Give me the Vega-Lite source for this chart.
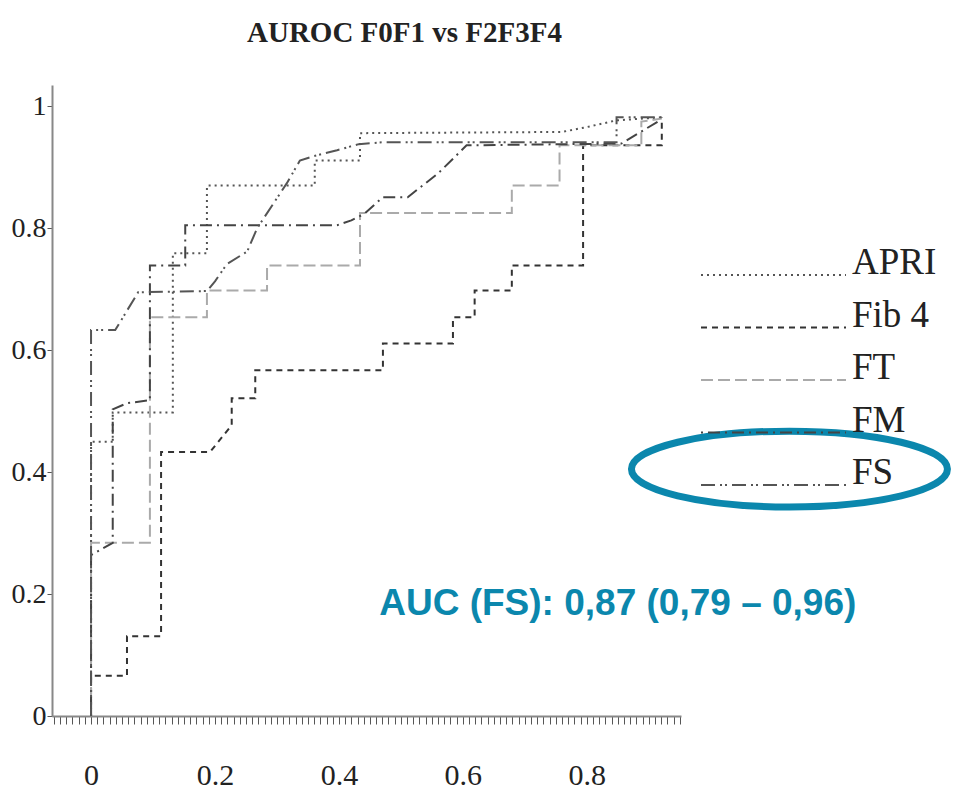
{
  "$schema": "https://vega.github.io/schema/vega-lite/v6.json",
  "width": 629,
  "height": 631,
  "autosize": "none",
  "padding": {"left": 52, "top": 85, "right": 275, "bottom": 73},
  "background": "white",
  "title": {"text": "AUROC F0F1 vs F2F3F4", "font": "Liberation Serif", "fontSize": 29, "fontWeight": "bold", "color": "#222", "anchor": "middle", "dx": 38, "offset": 14, "baseline": "alphabetic"},
  "datasets": {
    "roc": [
      {"test": "APRI", "i": 0, "fpr": 0, "tpr": 0},
      {"test": "APRI", "i": 1, "fpr": 0, "tpr": 0.45},
      {"test": "APRI", "i": 2, "fpr": 0.035, "tpr": 0.45},
      {"test": "APRI", "i": 3, "fpr": 0.035, "tpr": 0.498},
      {"test": "APRI", "i": 4, "fpr": 0.132, "tpr": 0.498},
      {"test": "APRI", "i": 5, "fpr": 0.132, "tpr": 0.759},
      {"test": "APRI", "i": 6, "fpr": 0.187, "tpr": 0.759},
      {"test": "APRI", "i": 7, "fpr": 0.187, "tpr": 0.87},
      {"test": "APRI", "i": 8, "fpr": 0.361, "tpr": 0.87},
      {"test": "APRI", "i": 9, "fpr": 0.361, "tpr": 0.911},
      {"test": "APRI", "i": 10, "fpr": 0.434, "tpr": 0.911},
      {"test": "APRI", "i": 11, "fpr": 0.434, "tpr": 0.956},
      {"test": "APRI", "i": 12, "fpr": 0.76, "tpr": 0.958},
      {"test": "APRI", "i": 13, "fpr": 0.8, "tpr": 0.966},
      {"test": "APRI", "i": 14, "fpr": 0.848, "tpr": 0.977},
      {"test": "APRI", "i": 15, "fpr": 0.921, "tpr": 0.982},

      {"test": "Fib 4", "i": 0, "fpr": 0, "tpr": 0},
      {"test": "Fib 4", "i": 1, "fpr": 0, "tpr": 0.066},
      {"test": "Fib 4", "i": 2, "fpr": 0.058, "tpr": 0.066},
      {"test": "Fib 4", "i": 3, "fpr": 0.058, "tpr": 0.131},
      {"test": "Fib 4", "i": 4, "fpr": 0.113, "tpr": 0.131},
      {"test": "Fib 4", "i": 5, "fpr": 0.113, "tpr": 0.433},
      {"test": "Fib 4", "i": 6, "fpr": 0.192, "tpr": 0.433},
      {"test": "Fib 4", "i": 7, "fpr": 0.227, "tpr": 0.477},
      {"test": "Fib 4", "i": 8, "fpr": 0.227, "tpr": 0.521},
      {"test": "Fib 4", "i": 9, "fpr": 0.265, "tpr": 0.521},
      {"test": "Fib 4", "i": 10, "fpr": 0.265, "tpr": 0.567},
      {"test": "Fib 4", "i": 11, "fpr": 0.471, "tpr": 0.567},
      {"test": "Fib 4", "i": 12, "fpr": 0.471, "tpr": 0.611},
      {"test": "Fib 4", "i": 13, "fpr": 0.584, "tpr": 0.611},
      {"test": "Fib 4", "i": 14, "fpr": 0.584, "tpr": 0.654},
      {"test": "Fib 4", "i": 15, "fpr": 0.619, "tpr": 0.654},
      {"test": "Fib 4", "i": 16, "fpr": 0.619, "tpr": 0.698},
      {"test": "Fib 4", "i": 17, "fpr": 0.679, "tpr": 0.698},
      {"test": "Fib 4", "i": 18, "fpr": 0.679, "tpr": 0.739},
      {"test": "Fib 4", "i": 19, "fpr": 0.794, "tpr": 0.739},
      {"test": "Fib 4", "i": 20, "fpr": 0.794, "tpr": 0.936},
      {"test": "Fib 4", "i": 21, "fpr": 0.921, "tpr": 0.936},
      {"test": "Fib 4", "i": 22, "fpr": 0.921, "tpr": 0.982},

      {"test": "FT", "i": 0, "fpr": 0, "tpr": 0},
      {"test": "FT", "i": 1, "fpr": 0, "tpr": 0.284},
      {"test": "FT", "i": 2, "fpr": 0.095, "tpr": 0.284},
      {"test": "FT", "i": 3, "fpr": 0.095, "tpr": 0.654},
      {"test": "FT", "i": 4, "fpr": 0.187, "tpr": 0.654},
      {"test": "FT", "i": 5, "fpr": 0.187, "tpr": 0.698},
      {"test": "FT", "i": 6, "fpr": 0.284, "tpr": 0.698},
      {"test": "FT", "i": 7, "fpr": 0.284, "tpr": 0.739},
      {"test": "FT", "i": 8, "fpr": 0.434, "tpr": 0.739},
      {"test": "FT", "i": 9, "fpr": 0.434, "tpr": 0.825},
      {"test": "FT", "i": 10, "fpr": 0.679, "tpr": 0.825},
      {"test": "FT", "i": 11, "fpr": 0.679, "tpr": 0.87},
      {"test": "FT", "i": 12, "fpr": 0.756, "tpr": 0.87},
      {"test": "FT", "i": 13, "fpr": 0.756, "tpr": 0.936},
      {"test": "FT", "i": 14, "fpr": 0.888, "tpr": 0.936},
      {"test": "FT", "i": 15, "fpr": 0.888, "tpr": 0.975},
      {"test": "FT", "i": 16, "fpr": 0.921, "tpr": 0.98},

      {"test": "FM", "i": 0, "fpr": 0, "tpr": 0},
      {"test": "FM", "i": 1, "fpr": 0, "tpr": 0.264},
      {"test": "FM", "i": 2, "fpr": 0.035, "tpr": 0.284},
      {"test": "FM", "i": 3, "fpr": 0.035, "tpr": 0.503},
      {"test": "FM", "i": 4, "fpr": 0.058, "tpr": 0.513},
      {"test": "FM", "i": 5, "fpr": 0.095, "tpr": 0.518},
      {"test": "FM", "i": 6, "fpr": 0.095, "tpr": 0.739},
      {"test": "FM", "i": 7, "fpr": 0.152, "tpr": 0.739},
      {"test": "FM", "i": 8, "fpr": 0.152, "tpr": 0.805},
      {"test": "FM", "i": 9, "fpr": 0.397, "tpr": 0.805},
      {"test": "FM", "i": 10, "fpr": 0.42, "tpr": 0.813},
      {"test": "FM", "i": 11, "fpr": 0.44, "tpr": 0.823},
      {"test": "FM", "i": 12, "fpr": 0.471, "tpr": 0.851},
      {"test": "FM", "i": 13, "fpr": 0.511, "tpr": 0.851},
      {"test": "FM", "i": 14, "fpr": 0.56, "tpr": 0.89},
      {"test": "FM", "i": 15, "fpr": 0.606, "tpr": 0.936},
      {"test": "FM", "i": 16, "fpr": 0.856, "tpr": 0.939},
      {"test": "FM", "i": 17, "fpr": 0.918, "tpr": 0.977},

      {"test": "FS", "i": 0, "fpr": 0, "tpr": 0},
      {"test": "FS", "i": 1, "fpr": 0, "tpr": 0.633},
      {"test": "FS", "i": 2, "fpr": 0.039, "tpr": 0.633},
      {"test": "FS", "i": 3, "fpr": 0.076, "tpr": 0.695},
      {"test": "FS", "i": 4, "fpr": 0.187, "tpr": 0.697},
      {"test": "FS", "i": 5, "fpr": 0.2, "tpr": 0.713},
      {"test": "FS", "i": 6, "fpr": 0.219, "tpr": 0.741},
      {"test": "FS", "i": 7, "fpr": 0.252, "tpr": 0.762},
      {"test": "FS", "i": 8, "fpr": 0.268, "tpr": 0.8},
      {"test": "FS", "i": 9, "fpr": 0.316, "tpr": 0.874},
      {"test": "FS", "i": 10, "fpr": 0.337, "tpr": 0.911},
      {"test": "FS", "i": 11, "fpr": 0.358, "tpr": 0.918},
      {"test": "FS", "i": 12, "fpr": 0.397, "tpr": 0.928},
      {"test": "FS", "i": 13, "fpr": 0.432, "tpr": 0.938},
      {"test": "FS", "i": 14, "fpr": 0.47, "tpr": 0.941},
      {"test": "FS", "i": 15, "fpr": 0.848, "tpr": 0.941},
      {"test": "FS", "i": 16, "fpr": 0.848, "tpr": 0.982},
      {"test": "FS", "i": 17, "fpr": 0.921, "tpr": 0.982}
    ],
    "notes": [
      {"kind": "label", "x": 0.85, "y": 0.166, "text": "AUC (FS): 0,87 (0,79 – 0,96)"},
      {"kind": "ellipse", "x": 1.127, "y": 0.405, "text": ""}
    ]
  },
  "layer": [
    {
      "data": {"name": "roc"},
      "mark": {"type": "line", "strokeWidth": 2, "clip": false},
      "encoding": {
        "x": {
          "field": "fpr", "type": "quantitative",
          "scale": {"domain": [-0.063, 0.952], "nice": false, "zero": false},
          "axis": {
            "title": null, "grid": false, "tickCount": 500,
            "values": [-0.06,-0.05,-0.04,-0.03,-0.02,-0.01,0,0.01,0.02,0.03,0.04,0.05,0.06,0.07,0.08,0.09,0.1,0.11,0.12,0.13,0.14,0.15,0.16,0.17,0.18,0.19,0.2,0.21,0.22,0.23,0.24,0.25,0.26,0.27,0.28,0.29,0.3,0.31,0.32,0.33,0.34,0.35,0.36,0.37,0.38,0.39,0.4,0.41,0.42,0.43,0.44,0.45,0.46,0.47,0.48,0.49,0.5,0.51,0.52,0.53,0.54,0.55,0.56,0.57,0.58,0.59,0.6,0.61,0.62,0.63,0.64,0.65,0.66,0.67,0.68,0.69,0.7,0.71,0.72,0.73,0.74,0.75,0.76,0.77,0.78,0.79,0.8,0.81,0.82,0.83,0.84,0.85,0.86,0.87,0.88,0.89,0.9,0.91,0.92,0.93,0.94,0.95],
            "labelExpr": "(abs(datum.value*5 - round(datum.value*5)) < 0.01 && datum.value > -0.005 && datum.value < 0.9) ? format(datum.value, '~g') : ''",
            "labelOverlap": false, "labelFlush": false, "labelBound": false,
            "tickSize": 8, "tickColor": "#555", "tickWidth": 1,
            "domainColor": "#888", "domainWidth": 2,
            "labelFont": "Liberation Serif", "labelFontSize": 30, "labelColor": "#222", "labelPadding": 36
          }
        },
        "y": {
          "field": "tpr", "type": "quantitative",
          "scale": {"domain": [0, 1.035], "nice": false, "zero": false},
          "axis": {
            "title": null, "grid": false,
            "values": [0, 0.2, 0.4, 0.6, 0.8, 1],
            "labelExpr": "format(datum.value, '~g')",
            "tickSize": 5, "tickColor": "#555", "tickWidth": 1,
            "domainColor": "#888", "domainWidth": 2,
            "labelFont": "Liberation Serif", "labelFontSize": 28, "labelColor": "#222", "labelPadding": 1
          }
        },
        "order": {"field": "i", "type": "quantitative"},
        "color": {
          "field": "test", "type": "nominal",
          "scale": {"domain": ["APRI", "Fib 4", "FT", "FM", "FS"], "range": ["#555555", "#333333", "#aaaaaa", "#444444", "#555555"]},
          "legend": {"title": null, "orient": "none", "legendX": 648, "legendY": 180, "symbolType": "stroke", "symbolSize": 21025, "symbolStrokeWidth": 2, "clipHeight": 20, "labelFont": "Liberation Serif", "labelFontSize": 37, "labelColor": "#222", "labelOffset": 5, "rowPadding": 11.5, "padding": 0, "labelLimit": 300, "encode": {"labels": {"update": {"dy": {"value": -12}}}}}
        },
        "strokeDash": {
          "field": "test", "type": "nominal",
          "scale": {"domain": ["APRI", "Fib 4", "FT", "FM", "FS"], "range": [[2, 4], [6, 5], [12, 5], [2, 5, 12, 5], [14, 5, 2, 3, 2, 5]]},
          "legend": {"title": null, "orient": "none", "legendX": 648, "legendY": 180, "symbolType": "stroke", "symbolSize": 21025, "symbolStrokeWidth": 2, "clipHeight": 20, "labelFont": "Liberation Serif", "labelFontSize": 37, "labelColor": "#222", "labelOffset": 5, "rowPadding": 11.5, "padding": 0, "labelLimit": 300, "encode": {"labels": {"update": {"dy": {"value": -12}}}}}
        }
      }
    },
    {
      "data": {"name": "notes"},
      "transform": [{"filter": "datum.kind == 'label'"}],
      "mark": {"type": "text", "font": "Liberation Sans", "fontWeight": "bold", "fontSize": 37, "color": "#0b87ad", "align": "center", "baseline": "alphabetic", "clip": false},
      "encoding": {
        "x": {"field": "x", "type": "quantitative"},
        "y": {"field": "y", "type": "quantitative"},
        "text": {"field": "text"}
      }
    },
    {
      "data": {"name": "notes"},
      "transform": [{"filter": "datum.kind == 'ellipse'"}],
      "mark": {"type": "point", "shape": "M-1,0A1,0.24,0,1,0,1,0A1,0.24,0,1,0,-1,0Z", "size": 99856, "strokeWidth": 7, "color": "#0b87ad", "filled": false, "opacity": 1, "clip": false},
      "encoding": {
        "x": {"field": "x", "type": "quantitative"},
        "y": {"field": "y", "type": "quantitative"}
      }
    }
  ],
  "config": {"view": {"stroke": null}}
}
